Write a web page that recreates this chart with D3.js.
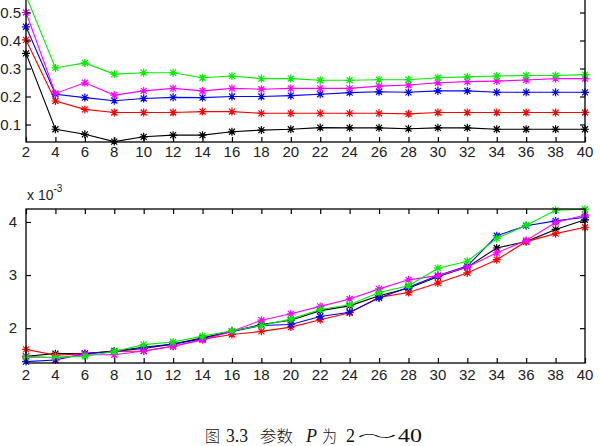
<!DOCTYPE html>
<html><head><meta charset="utf-8">
<script src="https://cdn.jsdelivr.net/npm/d3@7"></script>
<style>
html,body{margin:0;padding:0;background:#fff;}
svg{display:block;}
text{font-family:"Liberation Sans",Arial,sans-serif;}
</style></head>
<body>
<script>
// ---- data ----
const xValues = [2,4,6,8,10,12,14,16,18,20,22,24,26,28,30,32,34,36,38,40];
const xTickLabels = xValues.map(String);

// top panel
const topGreen   = [0.56,0.302,0.32,0.28,0.285,0.285,0.267,0.273,0.264,0.264,0.258,0.258,0.26,0.26,0.267,0.27,0.273,0.275,0.275,0.278];
const topMagenta = [0.50,0.211,0.249,0.205,0.22,0.229,0.22,0.229,0.226,0.229,0.229,0.229,0.237,0.241,0.249,0.253,0.255,0.259,0.264,0.264];
const topBlue    = [0.449,0.208,0.196,0.185,0.193,0.197,0.196,0.20,0.20,0.203,0.208,0.214,0.217,0.215,0.22,0.22,0.215,0.215,0.215,0.215];
const topRed     = [0.402,0.184,0.154,0.143,0.143,0.143,0.146,0.146,0.14,0.14,0.14,0.14,0.14,0.138,0.143,0.143,0.143,0.143,0.143,0.143];
const topBlack   = [0.354,0.083,0.065,0.039,0.056,0.062,0.062,0.074,0.08,0.083,0.089,0.088,0.088,0.085,0.088,0.088,0.083,0.083,0.083,0.083];
const topYTicks  = [0.1,0.2,0.3,0.4,0.5];
const topYTickLabels = ["0.1","0.2","0.3","0.4","0.5"];

// bottom panel (values in units of 1e-3)
const botGreen   = [1.45,1.45,1.47,1.56,1.69,1.74,1.85,1.95,2.05,2.17,2.35,2.44,2.67,2.80,3.13,3.26,3.69,3.94,4.22,4.24];
const botMagenta = [1.47,1.44,1.50,1.50,1.57,1.66,1.78,1.94,2.15,2.27,2.41,2.55,2.74,2.91,2.99,3.15,3.42,3.65,3.99,4.13];
const botBlue    = [1.37,1.40,1.52,1.56,1.62,1.70,1.80,1.94,2.05,2.07,2.22,2.30,2.57,2.77,2.99,3.17,3.74,3.93,4.02,4.09];
const botRed     = [1.60,1.49,1.52,1.56,1.57,1.66,1.79,1.88,1.94,2.02,2.16,2.29,2.58,2.67,2.85,3.04,3.29,3.63,3.78,3.90];
const botBlack   = [1.47,1.52,1.52,1.57,1.64,1.70,1.82,1.94,2.07,2.15,2.33,2.42,2.61,2.75,2.97,3.15,3.51,3.63,3.86,4.04];
const botYTicks  = [2,3,4];
const botYTickLabels = ["2","3","4"];

const seriesColors = ["#00ee00","#ff00ff","#0000ff","#ff0000","#000000"];
const captionParts = ["图","3.3","参数","P","为","2","～","40"];

// ---- drawing ----
const W = 600, H = 446;
const svg = d3.select("body").append("svg").attr("width",W).attr("height",H);

const L = 26, R = 585;
const x = d3.scaleLinear().domain([2,40]).range([L,R]);

const star = "M-4,0H4M0,-4V4M-3,-3L3,3M-3,3L3,-3";

function panel(cfg){
  const y = d3.scaleLinear().domain(cfg.ydom).range([cfg.bottom, cfg.top]);
  const g = svg.append("g");
  const order = [4,3,2,1,0];
  order.forEach(i=>{
    const vals = cfg.series[i];
    const pts = xValues.map((xv,j)=>[xv,vals[j]]);
    g.append("path").datum(pts)
      .attr("fill","none").attr("stroke",seriesColors[i]).attr("stroke-width",1.1)
      .attr("d", d3.line().x(d=>x(d[0])).y(d=>y(d[1])));
    g.selectAll(null).data(pts).enter().append("path")
      .attr("transform",d=>`translate(${x(d[0])},${y(d[1])})`)
      .attr("d",star).attr("fill","none").attr("stroke",seriesColors[i]).attr("stroke-width",1.2);
  });
  const ax = svg.append("g").attr("stroke","#000").attr("stroke-width",1.3).attr("fill","none");
  ax.append("rect").attr("x",L).attr("y",cfg.top).attr("width",R-L).attr("height",cfg.bottom-cfg.top);
  const xb = d3.axisBottom(x).tickValues(xValues).tickSize(-5).tickFormat("");
  const xt = d3.axisTop(x).tickValues(xValues).tickSize(-5).tickFormat("");
  const yl = d3.axisLeft(y).tickValues(cfg.yticks).tickSize(-5).tickFormat("");
  const yr = d3.axisRight(y).tickValues(cfg.yticks).tickSize(-5).tickFormat("");
  [[xb,`translate(0,${cfg.bottom})`],[xt,`translate(0,${cfg.top})`],[yl,`translate(${L},0)`],[yr,`translate(${R},0)`]].forEach(([a,t])=>{
    const gg = svg.append("g").attr("transform",t).call(a);
    gg.select(".domain").remove();
    gg.selectAll("line").attr("stroke","#000").attr("stroke-width",1.2);
  });
  svg.append("g").selectAll("text").data(xValues).enter().append("text")
    .attr("x",d=>x(d)).attr("y",cfg.xlabY).attr("text-anchor","middle")
    .attr("font-size",15).attr("fill","#222").text((d,i)=>xTickLabels[i]);
  svg.append("g").selectAll("text").data(cfg.yticks).enter().append("text")
    .attr("x",cfg.ylabX).attr("y",d=>y(d)+5).attr("text-anchor","end")
    .attr("font-size",15).attr("fill","#222").text((d,i)=>cfg.ylabels[i]);
  return y;
}

panel({top:-15.5, bottom:142, ydom:[0.0375,0.6], series:[topGreen,topMagenta,topBlue,topRed,topBlack],
  yticks:topYTicks, ylabels:topYTickLabels, xlabY:157, ylabX:21});

panel({top:209, bottom:363, ydom:[1.344,4.244], series:[botGreen,botMagenta,botBlue,botRed,botBlack],
  yticks:botYTicks, ylabels:botYTickLabels, xlabY:380, ylabX:17});

// exponent label
const ex = svg.append("text").attr("x",27).attr("y",200).attr("font-size",14).attr("fill","#222");
ex.append("tspan").text("x 10");
ex.append("tspan").attr("dy",-8).attr("font-size",10).text("-3");

// caption: [left x, width, kind]
const capLayout = [[205,15,"cjk"],[226,22,"lat"],[260,33,"cjk"],[306,11,"it"],[322,15,"cjk"],[346,9,"lat"],[357,40,"tilde"],[398,24,"lat"]];
captionParts.forEach((t,i)=>{
  const [lx,w,kind] = capLayout[i];
  const el = svg.append("text").attr("x",lx).attr("y",442).attr("fill","#111")
    .attr("textLength",w).attr("lengthAdjust","spacingAndGlyphs").text(t);
  if(kind==="cjk"||kind==="tilde"){
    el.style("font-family","'Noto Sans CJK SC',sans-serif").attr("font-size",15.5).attr("font-weight",300);
  } else {
    el.style("font-family","'Liberation Serif',serif").attr("font-size",18);
    if(kind==="it") el.attr("font-style","italic");
  }
});
</script>
</body></html>
